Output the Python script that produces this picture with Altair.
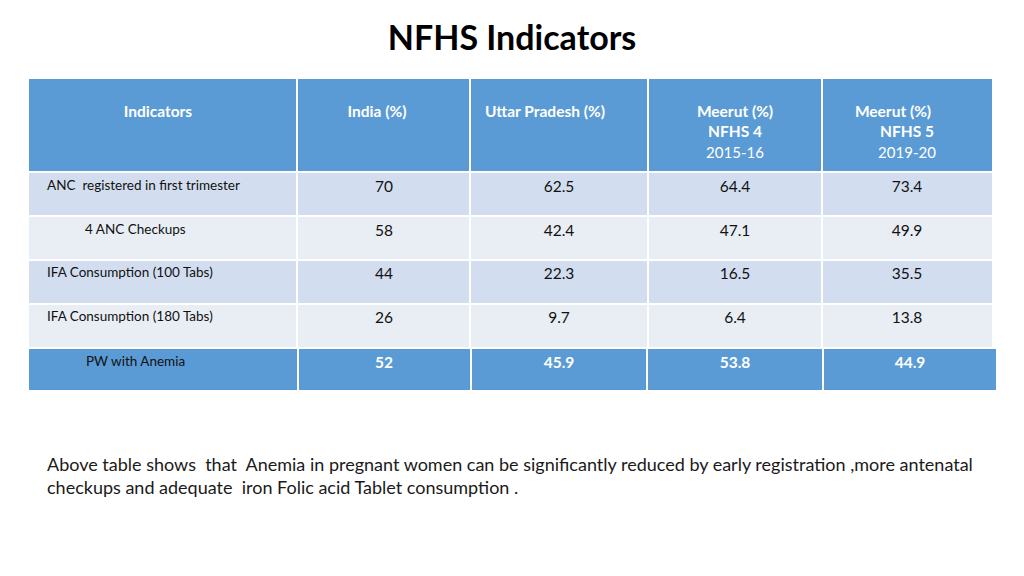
import altair as alt
import pandas as pd

# ---- data ----
title = "NFHS Indicators"
headers = ["Indicators", "India (%)", "Uttar Pradesh (%)", "Meerut (%)", "Meerut (%)"]
header_sub1 = ["", "", "", "NFHS 4", "NFHS 5"]
header_sub2 = ["", "", "", "2015-16", "2019-20"]
indicators = ["ANC  registered in first trimester", "4 ANC Checkups",
              "IFA Consumption (100 Tabs)", "IFA Consumption (180 Tabs)", "PW with Anemia"]
india = ["70", "58", "44", "26", "52"]
uttar_pradesh = ["62.5", "42.4", "22.3", "9.7", "45.9"]
meerut_nfhs4 = ["64.4", "47.1", "16.5", "6.4", "53.8"]
meerut_nfhs5 = ["73.4", "49.9", "35.5", "13.8", "44.9"]
note = ["Above table shows  that  Anemia in pregnant women can be significantly reduced by early registration ,more antenatal",
        "checkups and adequate  iron Folic acid Tablet consumption ."]


def keep_spaces(s):
    return s.replace("  ", " \u00a0")


# ---- layout (page pixels) ----
col_edges = [28, 297, 470, 648, 822, 993]
row_edges = [78, 172, 216, 260, 304, 348, 391]
HEADER = "#5B9BD5"
BAND1 = "#D2DEEF"
BAND2 = "#E9EDF4"
label_x = [47, 85, 47, 47, 86]
value_cx = [384, 559, 735, 907]
header_cx = [158, 377, 545, 735, 893]
sub_cx = [None, None, None, 735, 907]

cells = []
for c in range(5):
    cells.append(dict(x=col_edges[c], x2=col_edges[c + 1], y=row_edges[0], y2=row_edges[1], fill=HEADER))
for r in range(4):
    for c in range(5):
        cells.append(dict(x=col_edges[c], x2=col_edges[c + 1], y=row_edges[r + 1], y2=row_edges[r + 2],
                          fill=BAND1 if r % 2 == 0 else BAND2))
lc = [28, 298, 471, 647, 823, 997]
for c in range(5):
    cells.append(dict(x=lc[c], x2=lc[c + 1], y=row_edges[5], y2=row_edges[6], fill=HEADER))
cells_df = pd.DataFrame(cells)

W, H = 1008, 560
xs = alt.Scale(domain=[8, 8 + W], range=[0, W])
ys = alt.Scale(domain=[8, 8 + H], range=[0, H])


def X(f):
    return alt.X(f, type="quantitative", scale=xs, axis=None)


def Y(f):
    return alt.Y(f, type="quantitative", scale=ys, axis=None)


rects = alt.Chart(cells_df).mark_rect(stroke="white", strokeWidth=2).encode(
    x=X("x"), x2="x2", y=Y("y"), y2="y2", fill=alt.Fill("fill:N", scale=None))

FONT = "Lato"

title_df = pd.DataFrame([dict(x=512, y=40, t=title)])
title_l = alt.Chart(title_df).mark_text(font=FONT, fontSize=34, fontWeight="bold", color="#000000",
                                        baseline="middle").encode(x=X("x"), y=Y("y"), text="t:N")

hdr_df = pd.DataFrame([dict(x=header_cx[i], y=112, t=h) for i, h in enumerate(headers)])
hdr_l = alt.Chart(hdr_df).mark_text(font=FONT, fontSize=15.5, fontWeight="bold", color="white",
                                    baseline="middle").encode(x=X("x"), y=Y("y"), text="t:N")
sub1 = pd.DataFrame([dict(x=sub_cx[i], y=132, t=header_sub1[i]) for i in range(5) if header_sub1[i]])
sub1_l = alt.Chart(sub1).mark_text(font=FONT, fontSize=15.5, fontWeight="bold", color="white",
                                   baseline="middle").encode(x=X("x"), y=Y("y"), text="t:N")
sub2 = pd.DataFrame([dict(x=sub_cx[i], y=153, t=header_sub2[i]) for i in range(5) if header_sub2[i]])
sub2_l = alt.Chart(sub2).mark_text(font=FONT, fontSize=15, color="white",
                                   baseline="middle").encode(x=X("x"), y=Y("y"), text="t:N")

row_y = [186, 230, 273, 317, 362]
lab_df = pd.DataFrame([dict(x=label_x[i], y=row_y[i], t=keep_spaces(indicators[i])) for i in range(5)])
lab_l = alt.Chart(lab_df).mark_text(font=FONT, fontSize=13.5, color="#111111", align="left",
                                    baseline="middle").encode(x=X("x"), y=Y("y"), text="t:N")

cols = [india, uttar_pradesh, meerut_nfhs4, meerut_nfhs5]
vals = []
for r in range(4):
    for c in range(4):
        vals.append(dict(x=value_cx[c], y=row_y[r] + 1, t=cols[c][r]))
val_df = pd.DataFrame(vals)
val_l = alt.Chart(val_df).mark_text(font=FONT, fontSize=15.5, color="#111111",
                                    baseline="middle").encode(x=X("x"), y=Y("y"), text="t:N")
last_df = pd.DataFrame([dict(x=value_cx[c] + (3 if c == 3 else 0), y=row_y[4] + 1, t=cols[c][4]) for c in range(4)])
last_l = alt.Chart(last_df).mark_text(font=FONT, fontSize=15.5, fontWeight="bold", color="white",
                                      baseline="middle").encode(x=X("x"), y=Y("y"), text="t:N")

note_df = pd.DataFrame([dict(x=47, y=466 + 23 * i, t=keep_spaces(note[i])) for i in range(2)])
note_l = alt.Chart(note_df).mark_text(font=FONT, fontSize=18, color="#1a1a1a", align="left",
                                      baseline="middle").encode(x=X("x"), y=Y("y"), text="t:N")

chart = alt.layer(rects, title_l, hdr_l, sub1_l, sub2_l, lab_l, val_l, last_l, note_l).properties(
    width=W, height=H, padding=0, autosize=alt.AutoSizeParams(type="none"),
    background="white").configure_view(stroke=None)

chart.save("out.html", embed_options={"renderer": "svg", "actions": False})
